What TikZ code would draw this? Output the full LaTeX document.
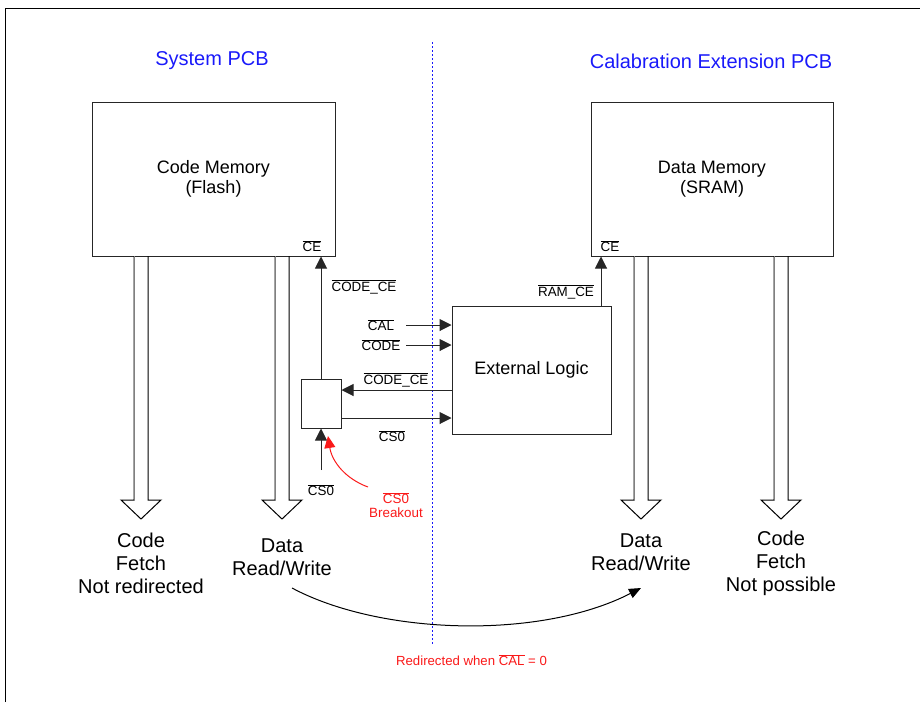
\documentclass[tikz,border=0pt]{standalone}
\usepackage{fontspec}
\setmainfont{Liberation Sans}
\usetikzlibrary{arrows.meta}
\newcommand{\ovl}[1]{$\overline{\mbox{#1}}$}
\definecolor{pcbblue}{RGB}{25,25,250}
\definecolor{notered}{RGB}{250,25,25}

\begin{document}
\begin{tikzpicture}[x=1pt,y=-1pt,
  box/.style={draw=black!85, line width=1pt, rectangle, inner sep=0pt,
    align=center, font=\fontsize{18}{20.5}\selectfont},
  sig/.style={font=\fontsize{13.4}{15}\selectfont, inner sep=0pt},
  heading/.style={font=\fontsize{20}{23}\selectfont, text=pcbblue, inner sep=0pt},
  result/.style={font=\fontsize{20}{23}\selectfont, align=center, inner sep=0pt},
  arr/.style={draw=black!85, line width=1pt, -{Triangle[length=12pt,width=12pt]}},
  redarr/.style={draw=notered, line width=1pt, -{Triangle[length=12pt,width=11pt]}},
  hollow/.style={draw=black, line width=1pt, line join=miter}
]
\useasboundingbox (0,0) rectangle (920,702);

% outer frame
\draw[line width=1pt] (5,702) -- (5,8) -- (920,8);

% board separation
\draw[pcbblue, line width=0.9pt, dash pattern=on 2pt off 2pt] (432,42) -- (432,645);

% headings
\node[heading] (hsys) at (212,61) {System PCB};
\node[heading] (hcal) at (711,61) {Calabration Extension PCB};

% memories and logic
\node[box, minimum width=243pt, minimum height=154pt] (cm) at (213.5,179) {Code Memory\\(Flash)};
\node[box, minimum width=242pt, minimum height=154pt] (dm) at (712,179) {Data Memory\\(SRAM)};
\node[box, minimum width=159pt, minimum height=128pt] (el) at (531.5,370) {External Logic};
\node[box, minimum width=40pt, minimum height=49pt] (sb) at (321,403.5) {};

\node[sig] (cmce) at (312,246) {\ovl{CE}};
\node[sig] (dmce) at (610,246) {\ovl{CE}};

% hollow bus arrows
\foreach \c in {141,282,641,781}{
  \draw[hollow] (\c-7,256) -- (\c-7,500) -- (\c-20,500) -- (\c,519)
    -- (\c+20,500) -- (\c+7,500) -- (\c+7,256);
  \draw[black!50, line width=1pt] (\c-7,256) -- (\c-7,500);
}

% signal coordinates
\coordinate (ycal) at (0,325);
\coordinate (ycode) at (0,345);
\coordinate (yce) at (0,390);
\coordinate (ycs) at (0,418);
\coordinate (xin) at (406,0);
\coordinate (xram) at (601,0);
\coordinate (csin) at (321,470);

% connectors
\draw[arr] (sb.north) -- (sb.north |- cm.south);
\draw[arr] (csin) -- (sb.south);
\draw[arr] (xin |- ycal) -- (el.west |- ycal);
\draw[arr] (xin |- ycode) -- (el.west |- ycode);
\draw[arr] (el.west |- yce) -- (sb.east |- yce);
\draw[arr] (sb.east |- ycs) -- (el.west |- ycs);
\draw[arr] (el.north -| xram) -- (dm.south -| xram);

% signal labels
\node[sig] (lcodece) at (364,287) {\ovl{CODE\_CE}};
\node[sig] (lcal) at (381,325) {\ovl{CAL}};
\node[sig] (lcode) at (381,345) {\ovl{CODE}};
\node[sig] (lcodece2) at (396,380) {\ovl{CODE\_CE}};
\node[sig] (lcs) at (392,436) {\ovl{CS0}};
\node[sig] (lcsin) at (321,490) {\ovl{CS0}};
\node[sig] (lramce) at (566,292) {\ovl{RAM\_CE}};

% breakout annotation
\node[sig, text=notered, align=center] (brk) at (396,505) {\ovl{CS0}\\[-1pt]Breakout};
\coordinate (brkstart) at (368,487);
\coordinate (brkend) at (328,436);
\draw[redarr] (brkstart) .. controls (346,479) and (332,462) .. (brkend);

% bus results
\node[result] (rcode) at (141,563) {Code\\Fetch\\Not redirected};
\node[result] (rdata) at (282,557) {Data\\Read/Write};
\node[result] (rdata2) at (641,552) {Data\\Read/Write};
\node[result] (rcode2) at (781,563) {Code\\Fetch\\Not possible};

% redirection
\coordinate (rstart) at (292,588);
\coordinate (rend) at (641,588);
\draw[black, line width=1pt, -{Triangle[length=12pt,width=10pt]}]
  (rstart) .. controls (380,635) and (540,640) .. (rend);
\node[sig, text=notered, font=\fontsize{13.2}{15}\selectfont] (redir) at (471.5,660)
  {Redirected when \ovl{CAL} = 0};
\end{tikzpicture}
\end{document}
